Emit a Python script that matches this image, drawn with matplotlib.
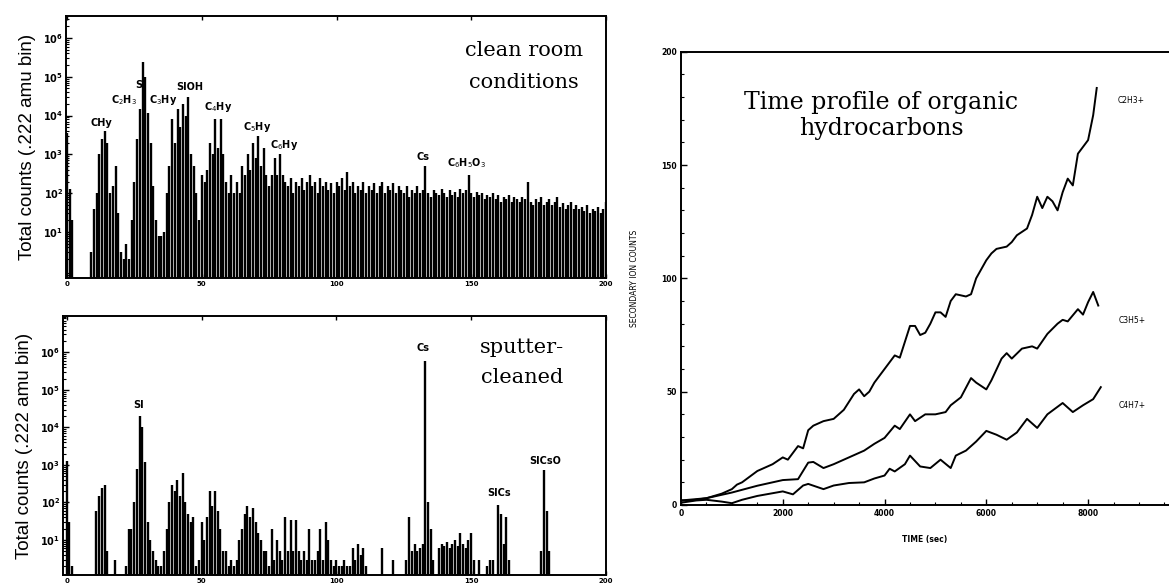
import numpy as np
import matplotlib
matplotlib.use("Agg")
import matplotlib.pyplot as plt
from matplotlib.ticker import FixedLocator, FixedFormatter, MultipleLocator, NullFormatter

# ---------------- data ----------------
masses = list(range(201))

clean_counts = [
    3500, 130, 20, 0, 0, 0, 0, 0, 0, 3,
    40, 100, 1000, 2500, 4000, 2000, 100, 150, 500, 30,
    3, 2, 5, 2, 20, 200, 2500, 15000, 240000, 100000,
    12000, 2000, 150, 20, 8, 8, 10, 100, 500, 8000,
    2000, 15000, 5000, 20000, 10000, 30000, 1000, 500, 100, 20,
    300, 200, 400, 2000, 1000, 8000, 1500, 8000, 1000, 200,
    100, 300, 100, 200, 100, 500, 300, 1000, 400, 2000,
    800, 3000, 500, 1500, 300, 150, 300, 800, 300, 1000,
    300, 200, 150, 250, 100, 200, 150, 250, 120, 200,
    300, 150, 200, 100, 250, 150, 200, 120, 180, 100,
    200, 150, 250, 120, 350, 150, 200, 100, 150, 120,
    200, 100, 150, 120, 180, 100, 150, 200, 100, 150,
    120, 180, 100, 150, 120, 100, 150, 80, 120, 100,
    150, 100, 120, 500, 100, 80, 120, 100, 90, 130,
    100, 80, 120, 90, 110, 80, 130, 100, 120, 300,
    100, 80, 110, 90, 100, 70, 90, 80, 100, 70,
    90, 60, 80, 70, 90, 60, 80, 70, 60, 80,
    70, 200, 60, 50, 70, 60, 80, 50, 60, 70,
    50, 60, 80, 45, 55, 40, 50, 60, 40, 50,
    40, 45, 35, 50, 30, 40, 35, 45, 30, 40,
    60]

sputter_counts = [
    1300, 30, 2, 0, 0, 0, 0, 0, 0, 0,
    0, 60, 150, 250, 300, 5, 0, 0, 3, 0,
    0, 0, 2, 20, 20, 100, 800, 20000, 10000, 1200,
    30, 10, 5, 3, 2, 2, 5, 20, 100, 300,
    200, 400, 150, 600, 100, 50, 30, 40, 2, 3,
    30, 10, 40, 200, 80, 200, 60, 20, 5, 5,
    2, 3, 2, 3, 10, 20, 50, 80, 40, 70,
    30, 15, 10, 5, 5, 2, 20, 3, 10, 5,
    3, 40, 5, 35, 5, 35, 5, 3, 5, 3,
    20, 3, 3, 5, 20, 3, 30, 10, 3, 2,
    3, 2, 2, 3, 2, 2, 6, 3, 8, 4,
    6, 2, 0, 0, 0, 0, 0, 6, 0, 0,
    0, 3, 0, 0, 0, 0, 3, 40, 5, 8,
    5, 6, 8, 600000, 100, 20, 3, 0, 6, 8,
    7, 9, 6, 8, 10, 7, 15, 8, 6, 10,
    15, 3, 0, 3, 0, 0, 2, 3, 3, 0,
    85, 50, 8, 40, 3, 0, 0, 0, 0, 0,
    0, 0, 0, 0, 0, 0, 5, 740, 60, 5,
    0, 0, 0, 0, 0, 0, 0, 0, 0, 0,
    0, 0, 0, 0, 0, 0, 0, 0, 0, 0,
    0]

clean_labels = [r"CHy", r"C$_2$H$_3$", "SI", r"C$_3$Hy", "SIOH", r"C$_4$Hy",
                r"C$_5$Hy", r"C$_6$Hy", "Cs", r"C$_6$H$_5$O$_3$"]
clean_label_x = [12.6, 21.2, 27.1, 35.6, 45.6, 56.0, 70.5, 80.5, 132.1, 148.4]
clean_label_y = [6500, 25000, 62000, 25000, 55000, 16600, 5100, 1740, 850, 600]

sputter_labels = ["SI", "Cs", "SICs", "SICsO"]
sputter_label_x = [26.7, 132.1, 160.3, 177.4]
sputter_label_y = [40000, 1.3e6, 180, 1270]

decade_ticks = [1e1, 1e2, 1e3, 1e4, 1e5, 1e6]
decade_labels = [r"$\mathbf{10^{1}}$", r"$\mathbf{10^{2}}$", r"$\mathbf{10^{3}}$",
                 r"$\mathbf{10^{4}}$", r"$\mathbf{10^{5}}$", r"$\mathbf{10^{6}}$"]
mass_ticks = [0, 50, 100, 150, 200]

t_c2h3 = [0, 200, 500, 800, 1000, 1100, 1200, 1500, 1800, 2000, 2100, 2300, 2400, 2500, 2600,
          2800, 3000, 3200, 3400, 3500, 3600, 3700, 3800, 4000, 4200, 4300, 4400, 4500, 4600,
          4700, 4800, 4900, 5000, 5100, 5200, 5300, 5400, 5600, 5700, 5800, 6000, 6100, 6200,
          6400, 6500, 6600, 6800, 6900, 7000, 7100, 7200, 7300, 7400, 7500, 7600, 7700, 7800,
          7900, 8000, 8100, 8170]
v_c2h3 = [2, 2, 3, 5, 7, 9, 10, 15, 18, 21, 20, 26, 25, 33, 35,
          37, 38, 42, 49, 51, 48, 50, 54, 60, 66, 65, 72, 79, 79,
          75, 76, 80, 85, 85, 83, 90, 93, 92, 93, 100, 108, 111, 113,
          114, 116, 119, 122, 128, 136, 131, 136, 134, 130, 138, 144, 141, 155,
          158, 161, 172, 184]

t_c3h5 = [0, 500, 1000, 1500, 2000, 2300, 2500, 2600, 2800, 3000, 3300, 3600, 3800, 4000,
          4200, 4300, 4500, 4600, 4800, 5000, 5200, 5300, 5500, 5700, 5800, 6000, 6100, 6300,
          6400, 6500, 6700, 6900, 7000, 7200, 7400, 7500, 7600, 7800, 7900, 8000, 8100, 8200]
v_c3h5 = [2, 3, 5.5, 8.5, 11, 11.4, 18.7, 19, 16.3, 18, 21, 24, 27, 29.6,
          35, 33.5, 40, 37, 40, 40, 41, 44, 47.5, 56, 54, 51, 55, 64.6,
          67, 64.6, 69, 70, 69, 75.5, 80, 81.7, 81, 86.4, 84, 89.5, 94, 88]

t_c4h7 = [0, 300, 500, 800, 1000, 1200, 1500, 2000, 2200, 2400, 2500, 2800, 3000, 3300,
          3600, 3800, 4000, 4100, 4200, 4400, 4500, 4700, 4900, 5100, 5300, 5400, 5600,
          5800, 6000, 6200, 6400, 6600, 6800, 7000, 7200, 7500, 7700, 7900, 8100, 8250]
v_c4h7 = [1, 2, 2.3, 1.5, 0.8, 2.3, 4, 6, 4.7, 8.6, 9.3, 7, 8.6, 9.7,
          10, 11.7, 13, 16, 14.8, 18, 21.8, 17, 16.3, 20, 16.3, 21.8, 24,
          28, 32.7, 31, 28.8, 32, 38, 34, 40, 45, 41, 44, 46.7, 52]

series_names = ["C2H3+", "C3H5+", "C4H7+"]
series_label_x = [8580, 8600, 8600]
series_label_y = [178.6, 81.2, 44.1]
time_ticks = [0, 2000, 4000, 6000, 8000]
count_ticks = [0, 50, 100, 150, 200]

# ---------------- figure ----------------
plt.rcParams['font.family'] = ['DejaVu Sans']
fig = plt.figure(figsize=(11.69, 5.84), dpi=100)

serif = ['DejaVu Serif']
tick_kw = dict(fontsize=5.5, fontweight='bold')


def spectrum(ax, counts, ylo, yhi, xlo):
    m = np.array(masses)
    c = np.array(counts, dtype=float)
    keep = c > 0
    ax.vlines(m[keep], ylo, c[keep], colors='black', linewidth=1.7)
    ax.set_yscale('log')
    ax.set_ylim(ylo, yhi)
    ax.set_xlim(xlo, 200)
    ax.yaxis.set_major_locator(FixedLocator(decade_ticks))
    ax.yaxis.set_major_formatter(FixedFormatter(decade_labels))
    ax.yaxis.set_minor_formatter(NullFormatter())
    ax.set_xticks(mass_ticks)
    ax.set_xticklabels([str(v) for v in mass_ticks], fontsize=5, fontweight='bold')
    ax.tick_params(axis='both', which='both', direction='in', top=True, right=False)
    ax.tick_params(axis='y', which='major', length=4, width=1, labelsize=7, pad=2)
    ax.tick_params(axis='y', which='minor', length=2, width=0.8)
    ax.tick_params(axis='x', which='major', length=3, width=1, pad=2)
    for s in ax.spines.values():
        s.set_linewidth(1.4)
    ax.set_ylabel("Total counts (.222 amu bin)", fontsize=13.5,
                  family=['Liberation Sans', 'DejaVu Sans'], labelpad=5)


# top-left panel
ax1 = fig.add_axes([66 / 1169, (584 - 278) / 584, 540 / 1169, 262 / 584])
spectrum(ax1, clean_counts, 0.652, 3.69e6, -0.4)
for lab, x, y in zip(clean_labels, clean_label_x, clean_label_y):
    ax1.text(x, y, lab, ha='center', va='center', fontsize=7, fontweight='bold')
ax1.text(0.848, 0.870, "clean room", transform=ax1.transAxes, ha='center', va='center',
         fontsize=15, family=serif)
ax1.text(0.848, 0.748, "conditions", transform=ax1.transAxes, ha='center', va='center',
         fontsize=15, family=serif)

# bottom-left panel
ax2 = fig.add_axes([63 / 1169, (584 - 575) / 584, 543 / 1169, 259 / 584])
spectrum(ax2, sputter_counts, 1.17, 9.3e6, -1.4)
for lab, x, y in zip(sputter_labels, sputter_label_x, sputter_label_y):
    ax2.text(x, y, lab, ha='center', va='center', fontsize=7, fontweight='bold')
ax2.text(0.845, 0.880, "sputter-", transform=ax2.transAxes, ha='center', va='center',
         fontsize=15, family=serif)
ax2.text(0.845, 0.764, "cleaned", transform=ax2.transAxes, ha='center', va='center',
         fontsize=15, family=serif)

# right panel
ax3 = fig.add_axes([681 / 1169, (584 - 505) / 584, 488 / 1169, 453.3 / 584])
for t, v in [(t_c2h3, v_c2h3), (t_c3h5, v_c3h5), (t_c4h7, v_c4h7)]:
    ax3.plot(t, v, color='black', linewidth=1.4)
for name, x, y in zip(series_names, series_label_x, series_label_y):
    ax3.text(x, y, name, ha='left', va='center', fontsize=5.5)
ax3.set_xlim(0, 9590)
ax3.set_ylim(0, 200)
ax3.set_xticks(time_ticks)
ax3.set_xticklabels([str(v) for v in time_ticks], **tick_kw)
ax3.set_yticks(count_ticks)
ax3.set_yticklabels([str(v) for v in count_ticks], **tick_kw)
ax3.xaxis.set_minor_locator(MultipleLocator(500))
ax3.yaxis.set_minor_locator(MultipleLocator(10))
ax3.tick_params(axis='both', which='both', direction='in', top=False, right=False)
ax3.tick_params(axis='both', which='major', length=4, width=1, pad=3)
ax3.tick_params(axis='both', which='minor', length=2, width=0.8)
ax3.spines['right'].set_visible(False)
for s in ['left', 'top', 'bottom']:
    ax3.spines[s].set_linewidth(1.4)
ax3.set_xlabel("TIME (sec)", fontsize=5.5, fontweight='bold', labelpad=12)
ax3.set_ylabel("SECONDARY ION COUNTS", fontsize=5.5, labelpad=16)
ax3.text(0.41, 0.86, "Time profile of organic\nhydrocarbons", transform=ax3.transAxes,
         ha='center', va='center', fontsize=17, family=serif, linespacing=1.15)

fig.savefig("out.png", dpi=100)
